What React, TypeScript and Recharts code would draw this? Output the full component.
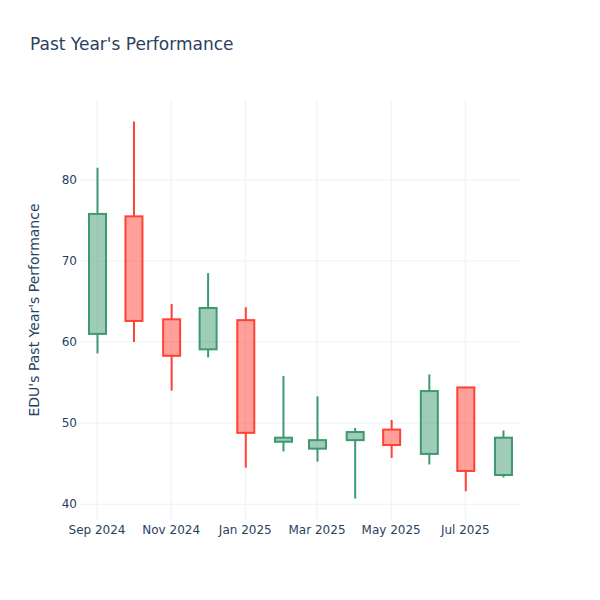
import React from "react";
import { ComposedChart, Bar, XAxis, YAxis, CartesianGrid } from "recharts";

const months = ["2024-09-01", "2024-10-01", "2024-11-01", "2024-12-01", "2025-01-01", "2025-02-01", "2025-03-01", "2025-04-01", "2025-05-01", "2025-06-01", "2025-07-01", "2025-08-01"];
const openValues = [61.0, 75.5, 62.8, 59.1, 62.7, 47.7, 46.85, 47.9, 49.2, 46.2, 54.4, 43.6];
const highValues = [81.5, 87.2, 64.7, 68.5, 64.3, 55.8, 53.3, 49.4, 50.4, 56.0, 54.4, 49.1];
const lowValues = [58.6, 60.0, 54.0, 58.1, 44.5, 46.5, 45.25, 40.7, 45.7, 44.9, 41.6, 43.3];
const closeValues = [75.8, 62.6, 58.3, 64.2, 48.8, 48.2, 47.9, 48.9, 47.3, 53.95, 44.1, 48.2];

const xTickDates = ["2024-09-01", "2024-11-01", "2025-01-01", "2025-03-01", "2025-05-01", "2025-07-01"];
const yTicks = [40, 50, 60, 70, 80];
const monthNames = ["Jan", "Feb", "Mar", "Apr", "May", "Jun", "Jul", "Aug", "Sep", "Oct", "Nov", "Dec"];

const DAY = 86400000;
const toTs = (s: string) => Date.parse(s + "T00:00:00Z");

const data = months.map((m, i) => ({
  date: toTs(m),
  open: openValues[i],
  high: highValues[i],
  low: lowValues[i],
  close: closeValues[i],
  range: [lowValues[i], highValues[i]],
}));

const xTicks = xTickDates.map(toTs);
const xDomain = [toTs(months[0]) - 14 * DAY, toTs(months[months.length - 1]) + 14 * DAY];
const yDomain = [38.05, 89.85];

const UP = "#3D9970";
const DOWN = "#FF4136";
const UP_FILL = "rgba(61,153,112,0.5)";
const DOWN_FILL = "rgba(255,65,54,0.5)";
const FONT = "'DejaVu Sans', Verdana, sans-serif";
const TEXT = "#2a3f5f";

const Candle = (props: any) => {
  const { x, y, width, height, payload } = props;
  if (x == null || y == null || !payload) return null;
  const top = Math.min(y, y + height);
  const h = Math.abs(height);
  const { open, close, high, low } = payload;
  const ppu = h / (high - low || 1);
  const bodyHigh = Math.max(open, close);
  const bodyLow = Math.min(open, close);
  const bTop = top + (high - bodyHigh) * ppu;
  const bBot = top + (high - bodyLow) * ppu;
  const cx = x + width / 2;
  const up = close >= open;
  const color = up ? UP : DOWN;
  const fill = up ? UP_FILL : DOWN_FILL;
  return (
    <g>
      <line x1={cx} x2={cx} y1={top} y2={bTop} stroke={color} strokeWidth={2} />
      <line x1={cx} x2={cx} y1={bBot} y2={top + h} stroke={color} strokeWidth={2} />
      <rect x={x} y={bTop} width={width} height={Math.max(bBot - bTop, 0.5)} fill={fill} stroke={color} strokeWidth={2} />
    </g>
  );
};

const fmt = (v: number) => {
  const d = new Date(v);
  return `${monthNames[d.getUTCMonth()]} ${d.getUTCFullYear()}`;
};

const hGen = (p: any) => {
  const s = p?.yAxis?.scale;
  if (typeof s === "function") return yTicks.map((t) => s(t));
  const off = p.offset;
  return yTicks.map((t) => off.top + off.height * (1 - (t - yDomain[0]) / (yDomain[1] - yDomain[0])));
};
const vGen = (p: any) => {
  const s = p?.xAxis?.scale;
  if (typeof s === "function") return xTicks.map((t) => s(t));
  const off = p.offset;
  return xTicks.map((t) => off.left + off.width * ((t - xDomain[0]) / (xDomain[1] - xDomain[0])));
};

export default function App() {
  return (
    <div style={{ position: "absolute", left: 0, top: 0, width: 600, height: 600, background: "#fff", fontFamily: FONT }}>
      <ComposedChart width={600} height={600} data={data} margin={{ top: 100, right: 80, bottom: 50, left: 20 }}>
        <CartesianGrid stroke="#EBF0F8" strokeWidth={1} horizontalCoordinatesGenerator={hGen} verticalCoordinatesGenerator={vGen} />
        <XAxis
          dataKey="date"
          type="number"
          domain={xDomain}
          ticks={xTicks}
          tickFormatter={fmt}
          allowDataOverflow
          axisLine={false}
          tickLine={false}
          tickSize={0}
          tickMargin={5}
          height={30}
          tick={{ fill: TEXT, fontSize: 12, fontFamily: FONT }}
        />
        <YAxis
          type="number"
          domain={yDomain}
          ticks={yTicks}
          allowDataOverflow
          axisLine={false}
          tickLine={false}
          tickSize={0}
          tickMargin={3}
          width={60}
          tick={{ fill: TEXT, fontSize: 12, fontFamily: FONT }}
        />
        <Bar dataKey="range" barSize={17} shape={<Candle />} isAnimationActive={false} />
        <text x={30} y={50} fill={TEXT} fontSize={17} fontFamily={FONT}>Past Year's Performance</text>
        <text x={39} y={310} fill={TEXT} fontSize={14} fontFamily={FONT} textAnchor="middle" transform="rotate(-90 39 310)">EDU's Past Year's Performance</text>
      </ComposedChart>
    </div>
  );
}
